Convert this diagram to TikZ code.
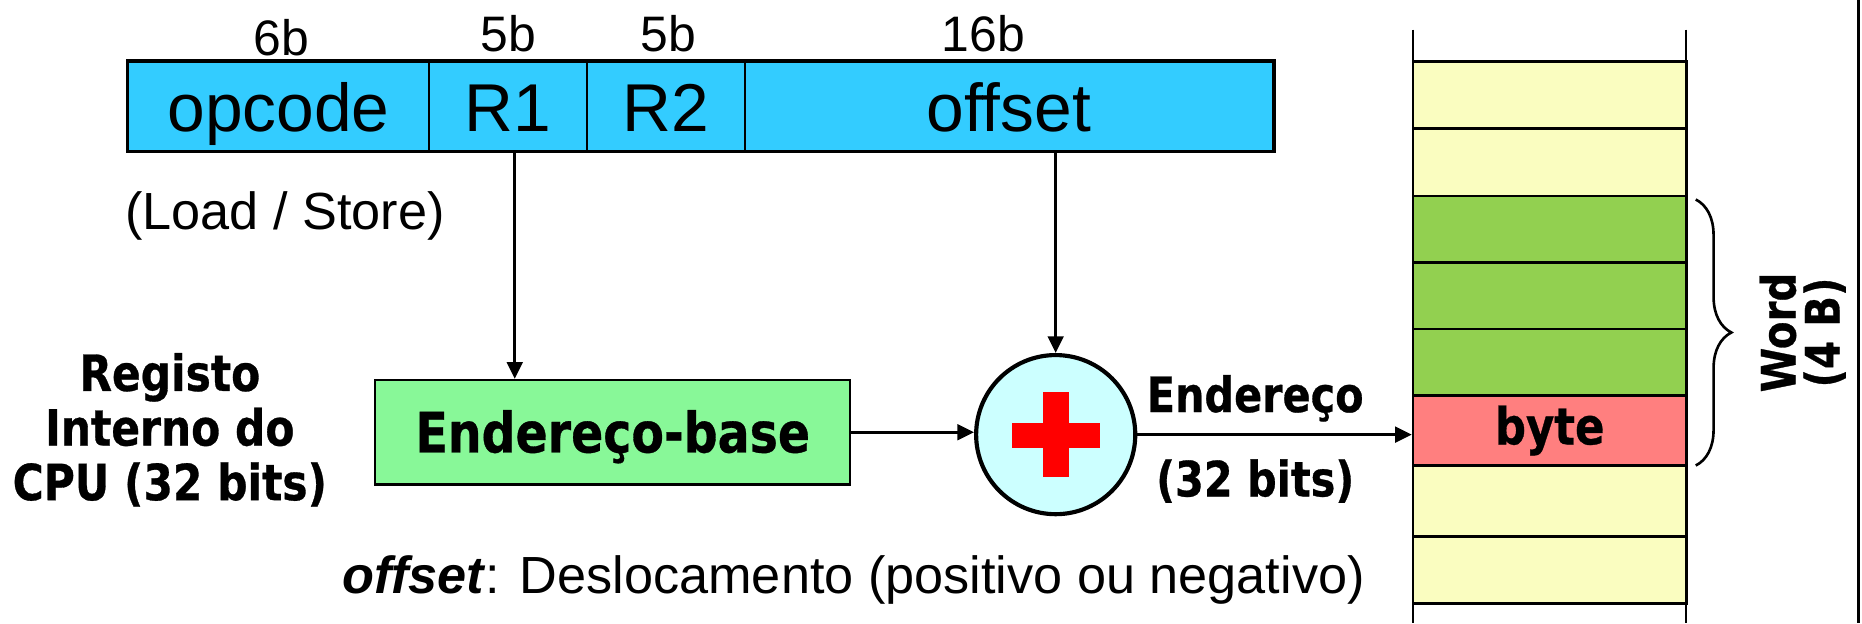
\documentclass[tikz,border=0pt]{standalone}
\usepackage{fontspec}
\setmainfont{Liberation Sans}
\newfontfamily\vb{DejaVu Sans}[FakeStretch=0.85,FakeBold=0.6]
\usepackage{xcolor}
\usepackage{tikz}
\usetikzlibrary{arrows.meta,positioning,decorations.pathreplacing}
\definecolor{instrblue}{HTML}{33CCFF}
\definecolor{basegreen}{HTML}{88F898}
\definecolor{addcyan}{HTML}{CCFFFF}
\definecolor{memyellow}{HTML}{FAFDC0}
\definecolor{wordgreen}{HTML}{92D050}
\definecolor{bytered}{HTML}{FF7F7F}

\begin{document}
\begin{tikzpicture}[x=1pt,y=-1pt]
\tikzstyle{field}=[draw,line width=1.8pt,fill=instrblue,minimum height=75pt,inner sep=0pt,text height=46pt,text depth=4pt,font=\fontsize{57}{60}\selectfont]
\tikzstyle{bits}=[anchor=base,inner sep=0pt,font=\fontsize{42}{46}\selectfont]
\tikzstyle{boldlbl}=[inner sep=0pt,font=\vb\bfseries\fontsize{41}{45}\selectfont]
\tikzstyle{cell}=[draw,line width=2.2pt,minimum width=230pt,inner sep=0pt]
\tikzstyle{arr}=[line width=2.8pt,-{Triangle[length=14pt,width=13pt]}]
\useasboundingbox (0,0) rectangle (1568,525);

\node[field,minimum width=253pt] (opc) at (234.5,89.5) {opcode};
\node[field,minimum width=133pt] (r1) at (427.5,89.5) {R1};
\node[field,minimum width=133pt] (r2) at (560.5,89.5) {R2};
\node[field,minimum width=445pt] (off) at (849.5,89.5) {offset};
\draw[line width=2.5pt] (opc.north west) rectangle (off.south east);

\node[bits] (b0) at (237,47) {6b};
\node[bits] (b1) at (428,43) {5b};
\node[bits] (b2) at (563,43) {5b};
\node[bits] (b3) at (828,43) {16b};

\node[font=\fontsize{44}{48}\selectfont,inner sep=0pt] (ls) at (240,182) {(Load / Store)};

\node[boldlbl,align=center,font=\vb\bfseries\fontsize{42}{46}\selectfont] (reg) at (143,362) {Registo\\Interno do\\CPU (32 bits)};

\node[draw,line width=2pt,fill=basegreen,minimum width=400pt,minimum height=88pt,inner sep=0pt,text height=34pt,text depth=0pt,font=\vb\bfseries\fontsize{47}{50}\selectfont] (base) at (516,364) {Endereço-base};

\node[circle,draw,line width=3.5pt,fill=addcyan,minimum size=134pt,inner sep=0pt] (add) at (889,366) {};
\fill[red] (878,330) rectangle (900,402);
\fill[red] (852,356) rectangle (926,377);

\foreach \i/\t/\b/\c in {0/52/108/memyellow,1/108/165/memyellow,2/165/221/wordgreen,3/221/277/wordgreen,4/277/333/wordgreen,5/333/392/bytered,6/392/452/memyellow,7/452/508/memyellow}
{
    \node[cell,fill=\c,minimum height=\b-\t] (m\i) at (1305,{(\t+\b)/2}) {};
}
\node[boldlbl,font=\vb\bfseries\fontsize{43}{46}\selectfont] (byte) at (m5) {byte};
\draw[line width=2pt] (1190,25) -- (1190,525);
\draw[line width=2pt] (1420,25) -- (1420,525);

\draw[arr] ([xshift=6pt]r1.south) -- ([xshift=6pt]r1.south |- base.north);
\draw[arr] (add.north |- off.south) -- (add.north);
\draw[arr] (base.east) -- (base.east -| add.west);
\draw[arr] (add.east) -- (add.east -| m5.west);

\node[boldlbl,anchor=base] (end) at (1057,347) {Endereço};
\node[boldlbl,anchor=base] (bits32) at (1057,418) {(32 bits)};

\draw[line width=2.2pt,decorate,decoration={brace,amplitude=30pt}] (1428,168) -- (1428,392);
\node[boldlbl,rotate=90,align=center,font=\vb\bfseries\fontsize{40}{37}\selectfont] (word) at (1518,280) {Word\\(4 B)};

\node[anchor=base,inner sep=0pt,font=\fontsize{44}{48}\selectfont] (desc) at (719,500) {\textbf{\textit{offset}}: Deslocamento (positivo ou negativo)};

\draw[line width=2.5pt] (1565,0) -- (1565,525);
\end{tikzpicture}
\end{document}
